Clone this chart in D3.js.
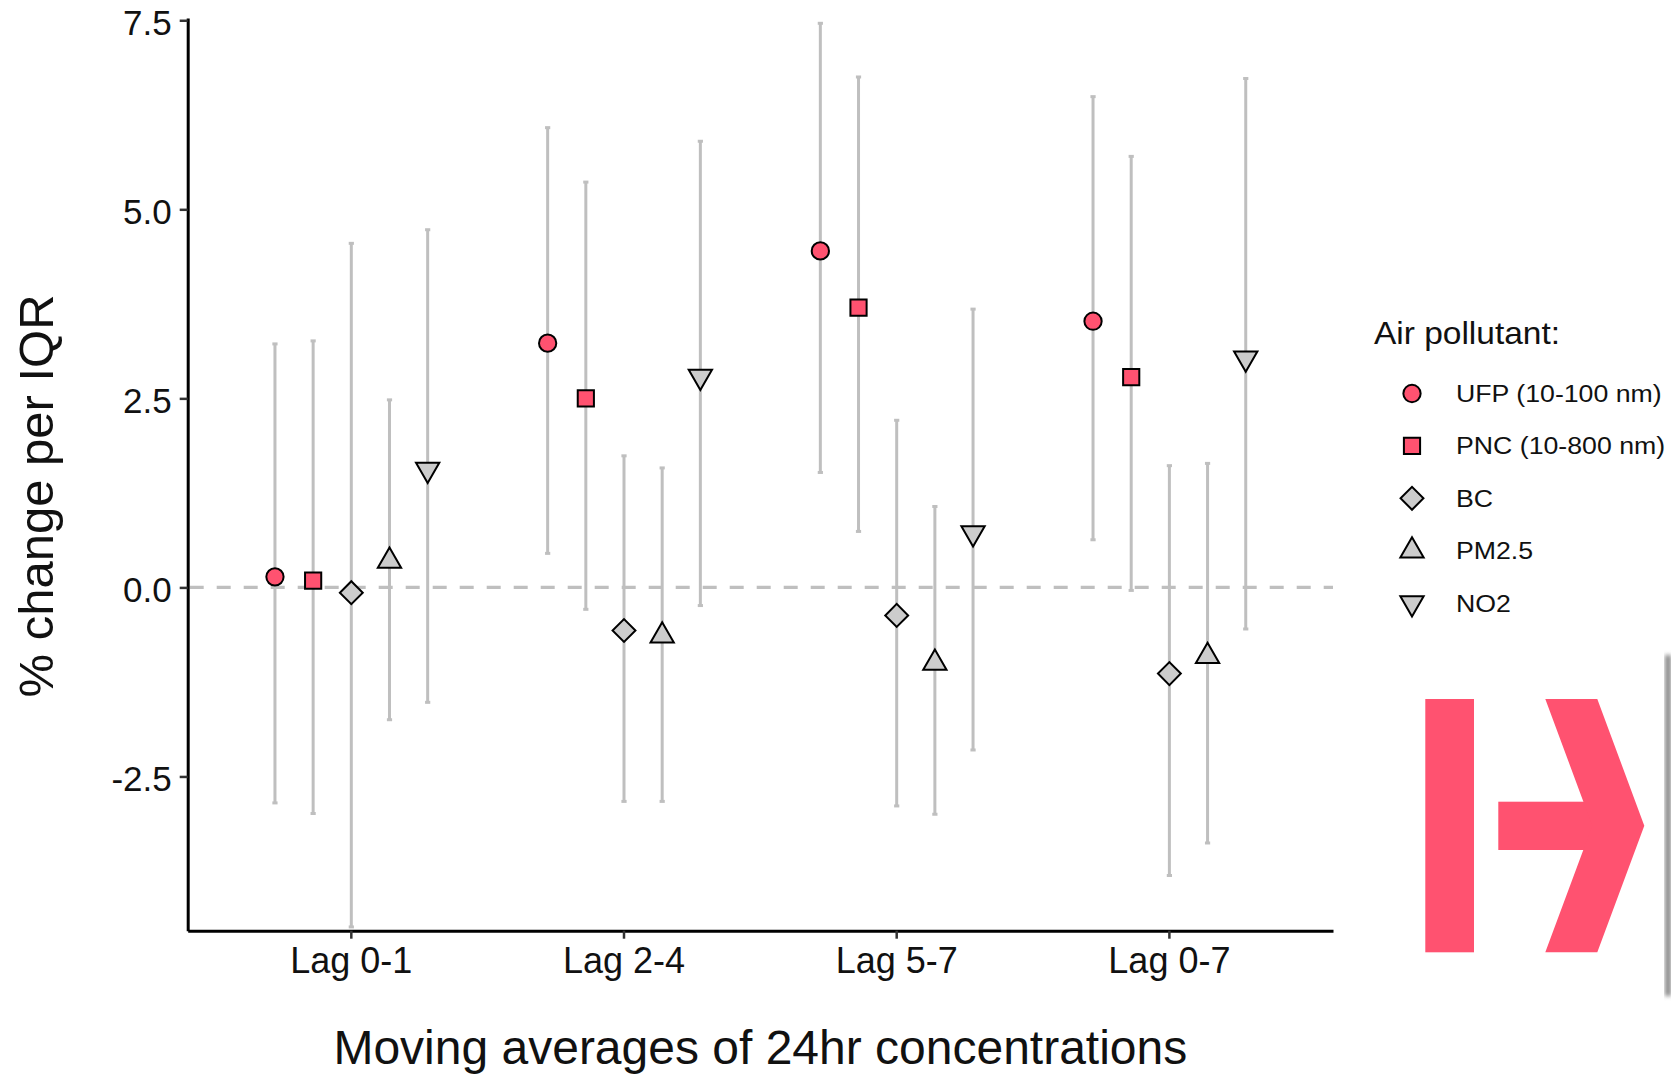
<!DOCTYPE html>
<html lang="en">
<head>
    <meta charset="UTF-8">
    <title>% change per IQR by lag</title>
    <style>
        body { margin: 0; background: #fff; }
        svg text { font-family: 'Liberation Sans', Arial, sans-serif; fill: #111; }
    </style>
</head>
<body>
    <script src="https://cdnjs.cloudflare.com/ajax/libs/d3/7.8.5/d3.min.js"></script>
    <script>
        // categories
        var lags = ['Lag 0-1', 'Lag 2-4', 'Lag 5-7', 'Lag 0-7'];
        var pollutants = ['UFP (10-100 nm)', 'PNC (10-800 nm)', 'BC', 'PM2.5', 'NO2'];

        // one row per pollutant, one value per lag
        var pointEst = [
            [0.14, 3.23, 4.45, 3.52],
            [0.09, 2.50, 3.70, 2.78],
            [-0.07, -0.57, -0.37, -1.14],
            [0.35, -0.64, -1.00, -0.91],
            [1.56, 2.79, 0.72, 3.03]
        ];
        var lowerCI = [
            [-2.85, 0.45, 1.52, 0.63],
            [-2.99, -0.29, 0.74, -0.04],
            [-4.49, -2.83, -2.89, -3.81],
            [-1.75, -2.83, -3.00, -3.38],
            [-1.52, -0.24, -2.15, -0.55]
        ];
        var upperCI = [
            [3.22, 6.08, 7.46, 6.49],
            [3.26, 5.36, 6.75, 5.70],
            [4.55, 1.74, 2.21, 1.61],
            [2.48, 1.58, 1.07, 1.64],
            [4.73, 5.90, 3.68, 6.73]
        ];
        var yTicks = [-2.5, 0, 2.5, 5, 7.5];

        // styles
        var pink = '#FF5270';
        var grey = '#CCCCCC';
        var barColor = '#BFBFBF';
        var fills = [pink, pink, grey, grey, grey];
        var shapes = ['circle', 'square', 'diamond', 'up', 'down'];

        var W = 1671, H = 1075;
        var margin = { top: 18, right: 338, bottom: 144.3, left: 187.7 };

        var svg = d3.select('body')
            .append('svg')
            .attr('width', W)
            .attr('height', H);

        var x0 = d3.scaleBand()
            .domain(lags)
            .range([margin.left, W - margin.right])
            .paddingInner(0.3)
            .paddingOuter(0.25);
        var x1 = d3.scaleBand()
            .domain(pollutants)
            .range([0, x0.bandwidth()]);
        var y = d3.scaleLinear()
            .domain([-4.54, 7.53])
            .range([H - margin.bottom, margin.top]);

        // flatten into rows for drawing
        var rows = [];
        lags.forEach(function (lag, i) {
            pollutants.forEach(function (p, j) {
                rows.push({ lag: lag, pol: p, j: j, est: pointEst[j][i], lo: lowerCI[j][i], hi: upperCI[j][i] });
            });
        });
        function xPos(d) {
            return x0(d.lag) + x1(d.pol) + x1.bandwidth() / 2;
        }

        // symbol path per shape
        function shapePath(s) {
            if (s === 'circle') return d3.symbol(d3.symbolCircle, 235)();
            if (s === 'square') return d3.symbol(d3.symbolSquare, 262)();
            if (s === 'diamond') return d3.symbol(d3.symbolSquare, 262)();
            return d3.symbol(d3.symbolTriangle, 235)();
        }
        function shapeRot(s) {
            if (s === 'diamond') return ' rotate(45)';
            if (s === 'down') return ' rotate(180)';
            return '';
        }

        // dashed zero line
        svg.append('line')
            .attr('x1', margin.left + 2)
            .attr('x2', W - margin.right)
            .attr('y1', y(0))
            .attr('y2', y(0))
            .attr('stroke', barColor)
            .attr('stroke-width', 3.2)
            .attr('stroke-dasharray', '14,13');

        // error bars
        var bars = svg.append('g').attr('class', 'bars');
        bars.selectAll('.ci')
            .data(rows)
            .enter()
            .append('line')
            .attr('class', 'ci')
            .attr('x1', xPos)
            .attr('x2', xPos)
            .attr('y1', function (d) { return y(d.lo); })
            .attr('y2', function (d) { return y(d.hi); })
            .attr('stroke', barColor)
            .attr('stroke-width', 3);
        ['lo', 'hi'].forEach(function (k) {
            bars.selectAll('.cap-' + k)
                .data(rows)
                .enter()
                .append('line')
                .attr('class', 'cap-' + k)
                .attr('x1', function (d) { return xPos(d) - 2.6; })
                .attr('x2', function (d) { return xPos(d) + 2.6; })
                .attr('y1', function (d) { return y(d[k]); })
                .attr('y2', function (d) { return y(d[k]); })
                .attr('stroke', barColor)
                .attr('stroke-width', 3);
        });

        // points
        svg.append('g')
            .selectAll('path')
            .data(rows)
            .enter()
            .append('path')
            .attr('d', function (d) { return shapePath(shapes[d.j]); })
            .attr('transform', function (d) {
                return 'translate(' + xPos(d) + ',' + y(d.est) + ')' + shapeRot(shapes[d.j]);
            })
            .attr('fill', function (d) { return fills[d.j]; })
            .attr('stroke', '#000')
            .attr('stroke-width', 2)
            .attr('stroke-linejoin', 'miter');

        // axes
        var yAxis = d3.axisLeft(y)
            .tickValues(yTicks)
            .tickFormat(function (d) { return d.toFixed(1); })
            .tickSize(8)
            .tickSizeOuter(0)
            .tickPadding(8);
        var xAxis = d3.axisBottom(x0)
            .tickSize(8)
            .tickSizeOuter(0)
            .tickPadding(9);

        var gy = svg.append('g')
            .attr('transform', 'translate(' + margin.left + ',0)')
            .call(yAxis);
        var gx = svg.append('g')
            .attr('transform', 'translate(0,' + (H - margin.bottom) + ')')
            .call(xAxis);

        [gx, gy].forEach(function (g) {
            g.select('.domain').attr('stroke', '#000').attr('stroke-width', 3);
            g.selectAll('.tick line').attr('stroke', '#333').attr('stroke-width', 2.5);
            g.selectAll('.tick text')
                .style('font-size', '35px')
                .attr('fill', '#111');
        });
        gy.selectAll('.tick text').attr('dy', '0.40em');
        gx.selectAll('.tick text').style('font-size', '36px');

        // axis titles
        svg.append('text')
            .attr('x', (margin.left + W - margin.right) / 2)
            .attr('y', 1064)
            .attr('text-anchor', 'middle')
            .style('font-size', '48px')
            .text('Moving averages of 24hr concentrations');

        svg.append('text')
            .attr('transform', 'translate(53,496) rotate(-90)')
            .attr('text-anchor', 'middle')
            .style('font-size', '49px')
            .text('% change per IQR');

        // legend (text a bit wider than tall, as in the original)
        var legend = svg.append('g').attr('transform', 'translate(1374,0)');
        legend.append('text')
            .attr('transform', 'translate(0,344) scale(1.08,1)')
            .style('font-size', '31px')
            .text('Air pollutant:');

        var item = legend.selectAll('.legend-item')
            .data(pollutants)
            .enter()
            .append('g')
            .attr('class', 'legend-item')
            .attr('transform', function (d, i) {
                return 'translate(0,' + (393.5 + i * 52.4) + ')';
            });
        item.append('path')
            .attr('d', function (d, i) { return shapePath(shapes[i]); })
            .attr('transform', function (d, i) { return 'translate(38,0)' + shapeRot(shapes[i]); })
            .attr('fill', function (d, i) { return fills[i]; })
            .attr('stroke', '#000')
            .attr('stroke-width', 2);
        item.append('text')
            .attr('transform', 'translate(82,8.5) scale(1.09,1)')
            .style('font-size', '24.5px')
            .text(function (d) { return d; });

        // pink logo at the bottom right
        var logo = svg.append('g').attr('fill', pink);
        logo.append('rect').attr('x', 1425.3).attr('y', 699).attr('width', 48.7).attr('height', 253.3);
        logo.append('rect').attr('x', 1498.3).attr('y', 801.7).attr('width', 100).attr('height', 48.3);
        logo.append('polygon')
            .attr('points', '1545.3,699 1597.3,699 1644.3,825.7 1597.3,952.3 1545.3,952.3 1592.3,825.7');

        // shadow edge of the panel on the far right
        var defs = svg.append('defs');
        defs.append('filter').attr('id', 'blur')
            .append('feGaussianBlur').attr('stdDeviation', 2);
        svg.append('rect')
            .attr('x', 1665).attr('y', 655)
            .attr('width', 6).attr('height', 341)
            .attr('fill', '#888')
            .attr('filter', 'url(#blur)');
    </script>
</body>
</html>
